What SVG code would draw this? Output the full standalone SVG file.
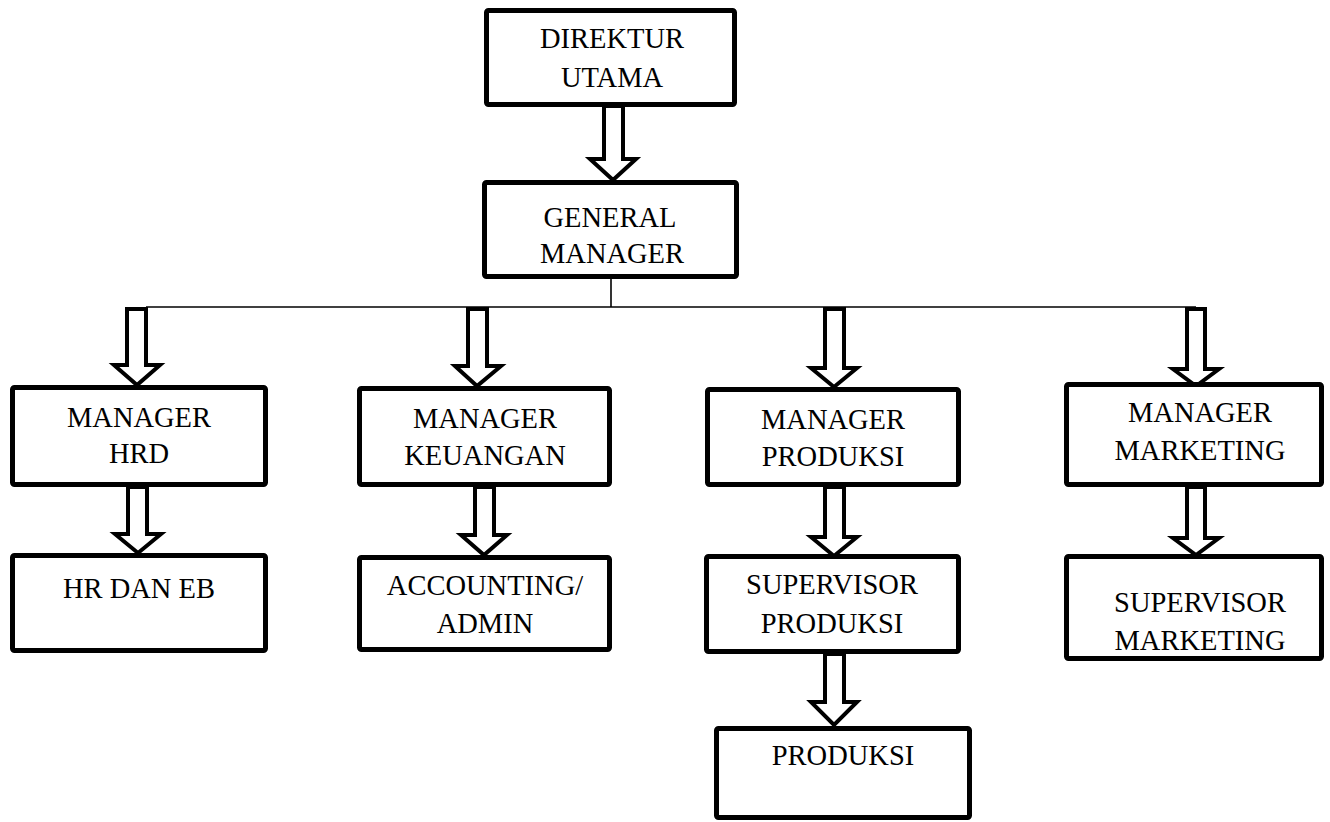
<svg xmlns="http://www.w3.org/2000/svg" width="1330" height="822" viewBox="0 0 1330 822">
<style>
.box{fill:#fff;stroke:#000;stroke-width:5;stroke-linejoin:round}
.t{font-family:'Liberation Serif','Times New Roman',Tinos,'DejaVu Serif',serif;font-size:28.5px;fill:#000;text-anchor:middle}
.arr{fill:#fff;stroke:#000;stroke-width:4;stroke-linejoin:miter}
.ln{stroke:#000;stroke-width:1.6;fill:none}
</style>
<rect width="1330" height="822" fill="#fff"/>
<g id="connectors">
<line class="ln" x1="611" y1="277" x2="611" y2="307"/>
<line class="ln" x1="146" y1="307" x2="1196" y2="307"/>
<polygon class="arr" points="604,106 623,106 623,159 636,159 613,180 590,159 604,159"/>
<polygon class="arr" points="127,309 146,309 146,365 160,365 137,385 114,365 127,365"/>
<polygon class="arr" points="128,487 147,487 147,534 161,534 138,553 115,534 128,534"/>
<polygon class="arr" points="468,309 487,309 487,366 501,366 477,386 455,366 468,366"/>
<polygon class="arr" points="475,487 494,487 494,535 507,535 484,555 461,535 475,535"/>
<polygon class="arr" points="825,309 844,309 844,368 857,368 834,387 811,368 825,368"/>
<polygon class="arr" points="825,487 844,487 844,537 857,537 834,556 811,537 825,537"/>
<polygon class="arr" points="825,654 844,654 844,702 857,702 834,725 811,702 825,702"/>
<polygon class="arr" points="1187,309 1205,309 1205,369 1219,369 1196,386 1173,369 1187,369"/>
<polygon class="arr" points="1187,487 1205,487 1205,538 1219,538 1196,555 1173,538 1187,538"/>
</g>
<g id="direktur-utama">
<rect class="box" x="486.5" y="10.5" width="248" height="94" rx="2"/>
<text class="t" x="612" y="48">DIREKTUR</text>
<text class="t" x="612" y="87">UTAMA</text>
</g>
<g id="general-manager">
<rect class="box" x="484.5" y="182.5" width="252" height="94" rx="2"/>
<text class="t" x="610" y="227">GENERAL</text>
<text class="t" x="612" y="263">MANAGER</text>
</g>
<g id="manager-hrd">
<rect class="box" x="12.5" y="387.5" width="253" height="97" rx="2"/>
<text class="t" x="139" y="427">MANAGER</text>
<text class="t" x="139" y="463">HRD</text>
</g>
<g id="hr-dan-eb">
<rect class="box" x="12.5" y="555.5" width="253" height="95" rx="2"/>
<text class="t" x="139" y="598">HR DAN EB</text>
</g>
<g id="manager-keuangan">
<rect class="box" x="359.5" y="388.5" width="250" height="96" rx="2"/>
<text class="t" x="485" y="428">MANAGER</text>
<text class="t" x="485" y="465">KEUANGAN</text>
</g>
<g id="accounting-admin">
<rect class="box" x="359.5" y="557.5" width="250" height="92" rx="2"/>
<text class="t" x="485" y="595">ACCOUNTING/</text>
<text class="t" x="485" y="633">ADMIN</text>
</g>
<g id="manager-produksi">
<rect class="box" x="707.5" y="389.5" width="251" height="95" rx="2"/>
<text class="t" x="833" y="429">MANAGER</text>
<text class="t" x="833" y="466">PRODUKSI</text>
</g>
<g id="supervisor-produksi">
<rect class="box" x="706.5" y="556.5" width="252" height="95" rx="2"/>
<text class="t" x="832" y="594">SUPERVISOR</text>
<text class="t" x="832" y="633">PRODUKSI</text>
</g>
<g id="produksi">
<rect class="box" x="716.5" y="728.5" width="253" height="89" rx="2"/>
<text class="t" x="843" y="765">PRODUKSI</text>
</g>
<g id="manager-marketing">
<rect class="box" x="1066.5" y="384.5" width="255" height="100" rx="2"/>
<text class="t" x="1200" y="422">MANAGER</text>
<text class="t" x="1200" y="460">MARKETING</text>
</g>
<g id="supervisor-marketing">
<rect class="box" x="1066.5" y="556.5" width="255" height="102" rx="2"/>
<text class="t" x="1200" y="612">SUPERVISOR</text>
<text class="t" x="1200" y="650">MARKETING</text>
</g>
</svg>
